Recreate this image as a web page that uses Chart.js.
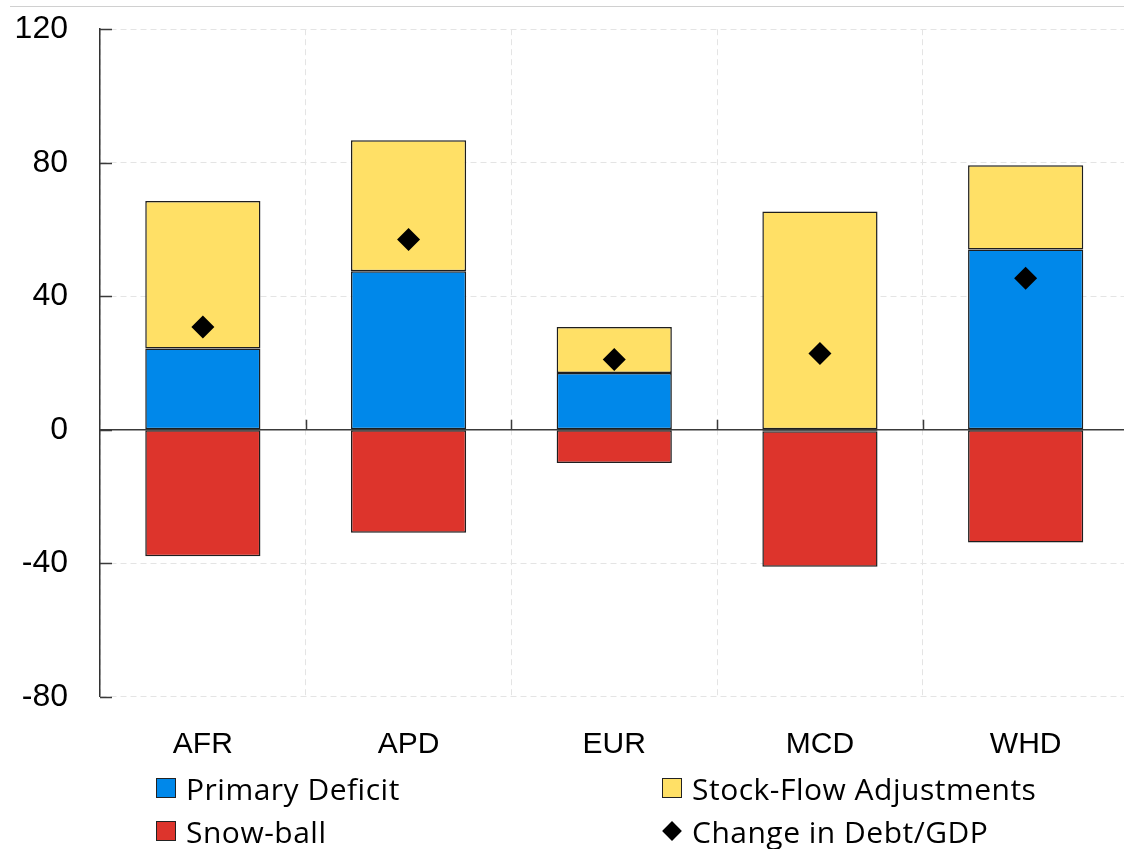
<!DOCTYPE html>
<html>
<head>
<meta charset="utf-8">
<script src="https://cdn.jsdelivr.net/npm/chart.js@4/dist/chart.umd.min.js"></script>
<style>
  html, body { margin: 0; padding: 0; background: #fff; overflow: hidden; }
  #wrap { position: relative; width: 1124px; height: 849px; overflow: hidden; }
  #topRule { position: absolute; left: 10px; right: 0; top: 6px; height: 0; border-top: 1px solid #d0d0d0; }
  #chart { position: absolute; left: 0; top: -22px; }
  #legend { position: absolute; left: 0; top: 0; width: 1124px; height: 849px; pointer-events: none;
            font-family: "Open Sans", "Liberation Sans", sans-serif; font-size: 30px; letter-spacing: 0.5px; color: #000; }
  .item { position: absolute; display: flex; align-items: center; height: 22px; white-space: nowrap; }
  .swatch { width: 18px; height: 18px; border: 1.5px solid #222; margin-right: 10px; }
  .diamond { width: 14px; height: 14px; background: #000; transform: rotate(45deg); margin: 0 13px 0 3px; }
</style>
</head>
<body>
<div id="wrap">
  <div id="topRule"></div>
  <canvas id="chart" width="1140" height="792"></canvas>
  <div id="legend"></div>
</div>
<script>
// Debt decomposition by region (percent of GDP)
const regions = ['AFR', 'APD', 'EUR', 'MCD', 'WHD'];
const primaryDeficit = [24.3, 47.5, 17.0, -0.5, 54.0];
const stockFlow = [44.2, 39.2, 13.8, 65.4, 25.2];
const snowBall = [-37.9, -30.9, -10.0, -40.6, -33.8];
const debtChange = [30.8, 57.0, 21.0, 22.8, 45.4];
const yTicks = [-80, -40, 0, 40, 80, 120];

const BLUE = '#0088EA';
const YELLOW = '#FFE066';
const RED = '#DD342C';
const EDGE = '#1e1e1e';

// zero line, inward y ticks and upward category ticks on the zero line
const axisMarks = {
  id: 'axisMarks',
  beforeDatasetsDraw(chart) {
    const { ctx, chartArea, scales: { x, y } } = chart;
    const y0 = y.getPixelForValue(0);
    ctx.save();
    ctx.strokeStyle = '#3a3a3a';
    ctx.lineWidth = 1.5;
    ctx.beginPath();
    ctx.moveTo(chartArea.left, y0);
    ctx.lineTo(chartArea.right, y0);
    ctx.stroke();
    // category boundary ticks
    const n = regions.length;
    const step = (x.right - x.left) / n;
    ctx.beginPath();
    for (let i = 1; i <= n; i++) {
      const px = Math.round(x.left + i * step) + 0.5;
      ctx.moveTo(px, y0);
      ctx.lineTo(px, y0 - 10);
    }
    ctx.stroke();
    // y ticks pointing into the plot
    ctx.beginPath();
    yTicks.forEach(v => {
      const py = Math.round(y.getPixelForValue(v)) + 0.5;
      ctx.moveTo(chartArea.left, py);
      ctx.lineTo(chartArea.left + 12, py);
    });
    ctx.stroke();
    ctx.restore();
  }
};

// legend laid out in two columns below the axis
const gridLegend = {
  id: 'gridLegend',
  afterUpdate(chart) {
    const box = document.getElementById('legend');
    box.innerHTML = '';
    const pos = [[156, 777], [662, 777], [156, 820], [662, 820]];
    chart.data.datasets.forEach((ds, k) => {
      const el = document.createElement('div');
      el.className = 'item';
      el.style.left = pos[k][0] + 'px';
      el.style.top = pos[k][1] + 'px';
      const mark = document.createElement('span');
      if (ds.type === 'line') {
        mark.className = 'diamond';
      } else {
        mark.className = 'swatch';
        mark.style.background = ds.backgroundColor;
      }
      const label = document.createElement('span');
      label.textContent = ds.label;
      el.appendChild(mark);
      el.appendChild(label);
      box.appendChild(el);
    });
  }
};

const barCommon = {
  type: 'bar',
  stack: 'flows',
  borderColor: EDGE,
  borderWidth: 1.5,
  borderSkipped: false,
  barPercentage: 0.56,
  categoryPercentage: 1.0,
  order: 2
};

new Chart(document.getElementById('chart'), {
  data: {
    labels: regions,
    datasets: [
      Object.assign({ label: 'Primary Deficit', data: primaryDeficit, backgroundColor: BLUE }, barCommon),
      Object.assign({ label: 'Stock-Flow Adjustments', data: stockFlow, backgroundColor: YELLOW }, barCommon),
      Object.assign({ label: 'Snow-ball', data: snowBall, backgroundColor: RED }, barCommon),
      {
        type: 'line',
        label: 'Change in Debt/GDP',
        data: debtChange,
        stack: 'debt',
        showLine: false,
        pointStyle: 'rectRot',
        pointRadius: 11.5,
        pointHoverRadius: 11.5,
        pointBackgroundColor: '#000',
        pointBorderColor: '#000',
        pointBorderWidth: 0,
        backgroundColor: '#000',
        borderColor: '#000',
        order: 0
      }
    ]
  },
  options: {
    responsive: false,
    animation: false,
    devicePixelRatio: 1,
    layout: { padding: { top: 0, right: 10, bottom: 0, left: 0 } },
    plugins: {
      legend: { display: false },
      tooltip: { enabled: false }
    },
    scales: {
      x: {
        stacked: true,
        offset: true,
        grid: { display: true, color: '#e4e4e4', lineWidth: 1, drawTicks: false, offset: true },
        border: { display: false, dash: [6, 4] },
        ticks: {
          color: '#000',
          padding: 30,
          font: { family: 'Liberation Sans', size: 30 }
        },
        afterFit(scale) { scale.height = 73.3; }
      },
      y: {
        stacked: true,
        min: -80,
        max: 120,
        afterBuildTicks(scale) { scale.ticks = yTicks.map(v => ({ value: v })); },
        grid: { color: '#e4e4e4', lineWidth: 1, drawTicks: false },
        border: { display: true, color: '#333', width: 1.5, dash: [6, 4] },
        ticks: {
          color: '#000',
          padding: 32,
          font: { family: 'Liberation Sans', size: 32 }
        },
        afterFit(scale) { scale.width = 100; }
      }
    }
  },
  plugins: [axisMarks, gridLegend]
});
</script>
</body>
</html>
